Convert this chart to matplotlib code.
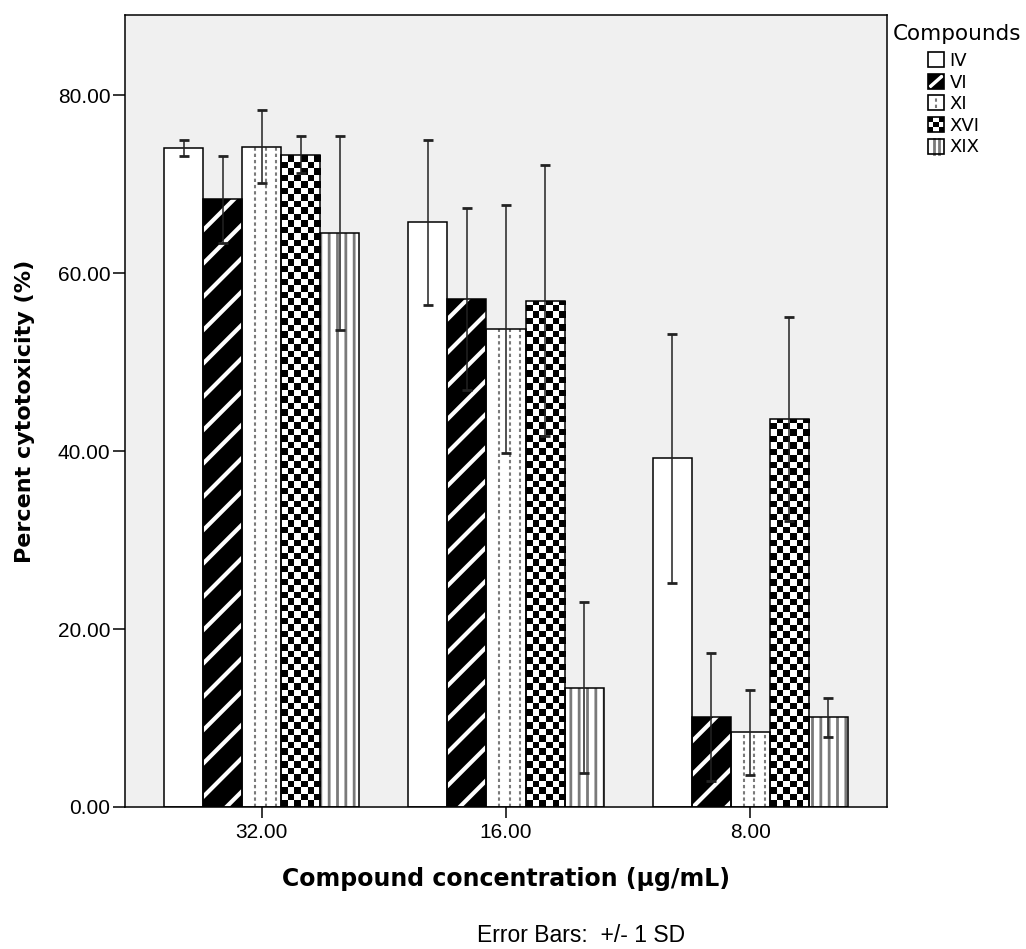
import numpy as np
import matplotlib
matplotlib.use('Agg')
import matplotlib.pyplot as plt
from matplotlib.patches import Rectangle, Patch
from matplotlib.legend_handler import HandlerBase
from matplotlib.ticker import FormatStrFormatter

# data (mean and SD of percent cytotoxicity)
concentrations = ['32.00', '16.00', '8.00']
compounds = ['IV', 'VI', 'XI', 'XVI', 'XIX']
mean_IV = [74.0, 65.7, 39.2]
mean_VI = [68.3, 57.1, 10.1]
mean_XI = [74.2, 53.7, 8.4]
mean_XVI = [73.3, 56.9, 43.6]
mean_XIX = [64.5, 13.4, 10.1]
sd_IV = [0.9, 9.3, 14.0]
sd_VI = [4.9, 10.2, 7.2]
sd_XI = [4.1, 13.9, 4.8]
sd_XVI = [2.1, 15.2, 11.5]
sd_XIX = [10.9, 9.6, 2.2]

means = [mean_IV, mean_VI, mean_XI, mean_XVI, mean_XIX]
sds = [sd_IV, sd_VI, sd_XI, sd_XVI, sd_XIX]

plt.rcParams['font.family'] = ['Liberation Sans', 'DejaVu Sans']
plt.rcParams['hatch.linewidth'] = 2.0

fig = plt.figure(figsize=(10.26, 9.49), dpi=100)
ax = fig.add_axes([125/1026, 142/949, 762/1026, 792/949])
ax.set_facecolor('#f0f0f0')
ax.set_xlim(-0.56, 2.56)
ax.set_ylim(0, 89)

w = 0.16
x = np.arange(len(concentrations))
edge_lw = 1.1

# size of a checker square in data units (6 columns per bar)
px_x = 762/3.12
px_y = 792/89.0
sq_x = w/6
sq_y = sq_x*px_x/px_y

for j, name in enumerate(compounds):
    xs = x + (j - 2)*w
    h = np.array(means[j])
    if name == 'VI':
        with plt.rc_context({'hatch.linewidth': 3.0}):
            ax.bar(xs, h, w, color='black', edgecolor='white', hatch='/', linewidth=0, zorder=2)
    elif name == 'XIX':
        with plt.rc_context({'hatch.linewidth': 2.0}):
            ax.bar(xs, h, w, color='white', edgecolor='#7a7a7a', hatch='||', linewidth=0, zorder=2)
    else:
        ax.bar(xs, h, w, color='white', linewidth=0, zorder=2)
    if name == 'XI':
        for xc, hh in zip(xs, h):
            x0 = xc - w/2
            ax.vlines([x0 + w*f for f in (0.33, 0.6, 0.87)], 0, hh, colors='#7a7a7a',
                      linestyles=(0, (1.6, 1.4)), linewidth=1.5, zorder=2.5)
    outlines = ax.bar(xs, h, w, fill=False, edgecolor='black', linewidth=edge_lw, zorder=3)
    if name == 'XVI':
        for rect, xc, hh in zip(outlines.patches, xs, h):
            nrows = int(np.ceil(hh/sq_y))
            board = (np.add.outer(np.arange(nrows), np.arange(6)) % 2).astype(float)
            im = ax.imshow(board, cmap='gray', vmin=0, vmax=1, interpolation='nearest',
                           extent=(xc - w/2, xc + w/2, 0, nrows*sq_y), origin='lower',
                           aspect='auto', zorder=2.5)
            im.set_clip_path(rect)
    ax.errorbar(xs, h, yerr=sds[j], fmt='none', ecolor='#222222', elinewidth=1.1,
                capsize=3.6, capthick=2.0, zorder=4)

ax.set_xlim(-0.56, 2.56)
ax.set_ylim(0, 89)
ax.set_xticks(x, concentrations)
ax.set_yticks([0, 20, 40, 60, 80])
ax.yaxis.set_major_formatter(FormatStrFormatter('%.2f'))
ax.tick_params(axis='y', length=9, width=1.1, pad=1.5, labelsize=15, colors='black')
ax.tick_params(axis='x', length=8, width=1.1, pad=3.5, labelsize=15, colors='black')
for s in ax.spines.values():
    s.set_linewidth(1.1)
    s.set_color('black')

fig.text(506/1026, (949-886)/949, 'Compound concentration (µg/mL)', ha='center', va='baseline',
         fontsize=17, fontweight='bold', family='DejaVu Sans')
fig.text(25/1026, 1 - 411/949, 'Percent cytotoxicity (%)', rotation=90, ha='center', va='center',
         fontsize=16, fontweight='bold', family='DejaVu Sans')
fig.text(477/1026, (949-942)/949, 'Error Bars:  +/- 1 SD', ha='left', va='baseline', fontsize=16.5)
fig.text(893/1026, (949-40)/949, 'Compounds', ha='left', va='baseline', fontsize=15.5,
         family='DejaVu Sans')


# legend icons drawn the same way as the bars
class PatternHandler(HandlerBase):
    def __init__(self, kind):
        super().__init__()
        self.kind = kind

    def create_artists(self, legend, orig_handle, xdescent, ydescent, width, height, fontsize, trans):
        x0, y0 = -xdescent, -ydescent
        arts = []
        k = self.kind
        if k == 'VI':
            arts.append(Rectangle((x0, y0), width, height, facecolor='black', linewidth=0,
                                  transform=trans))
            arts.append(plt.Line2D([x0 + 2, x0 + width - 2], [y0 + 2, y0 + height - 2],
                                   color='white', linewidth=2.5, transform=trans))
        elif k == 'XIX':
            arts.append(Rectangle((x0, y0), width, height, facecolor='white', linewidth=0,
                                  transform=trans))
            for f in (0.35, 0.65):
                arts.append(plt.Line2D([x0 + width*f]*2, [y0, y0 + height], color='#7a7a7a',
                                       linewidth=2.0, transform=trans))
        else:
            arts.append(Rectangle((x0, y0), width, height, facecolor='white', linewidth=0,
                                  transform=trans))
        if k == 'XVI':
            n = 3
            for a in range(n):
                for b in range(n):
                    if (a + b) % 2 == 0:
                        arts.append(Rectangle((x0 + a*width/n, y0 + b*height/n), width/n, height/n,
                                              facecolor='black', linewidth=0, transform=trans))
        if k == 'XI':
            arts.append(plt.Line2D([x0 + width/2]*2, [y0 + 2, y0 + height - 2], color='#7a7a7a',
                                   linestyle=(0, (1.6, 1.4)), linewidth=1.5, transform=trans))
        arts.append(Rectangle((x0, y0), width, height, fill=False, edgecolor='black',
                              linewidth=1.2, transform=trans))
        return arts


handles = [Patch(label=c) for c in compounds]
hmap = {hd: PatternHandler(c) for hd, c in zip(handles, compounds)}
ax.legend(handles=handles, labels=compounds, handler_map=hmap, loc='upper left',
          bbox_to_anchor=(928/1026, (949-52)/949), bbox_transform=fig.transFigure,
          frameon=False, borderpad=0, borderaxespad=0, handlelength=0.9, handleheight=0.9,
          handletextpad=0.3, labelspacing=0.2, prop={'family': 'DejaVu Sans', 'size': 13})

fig.savefig('out.png', dpi=100)
